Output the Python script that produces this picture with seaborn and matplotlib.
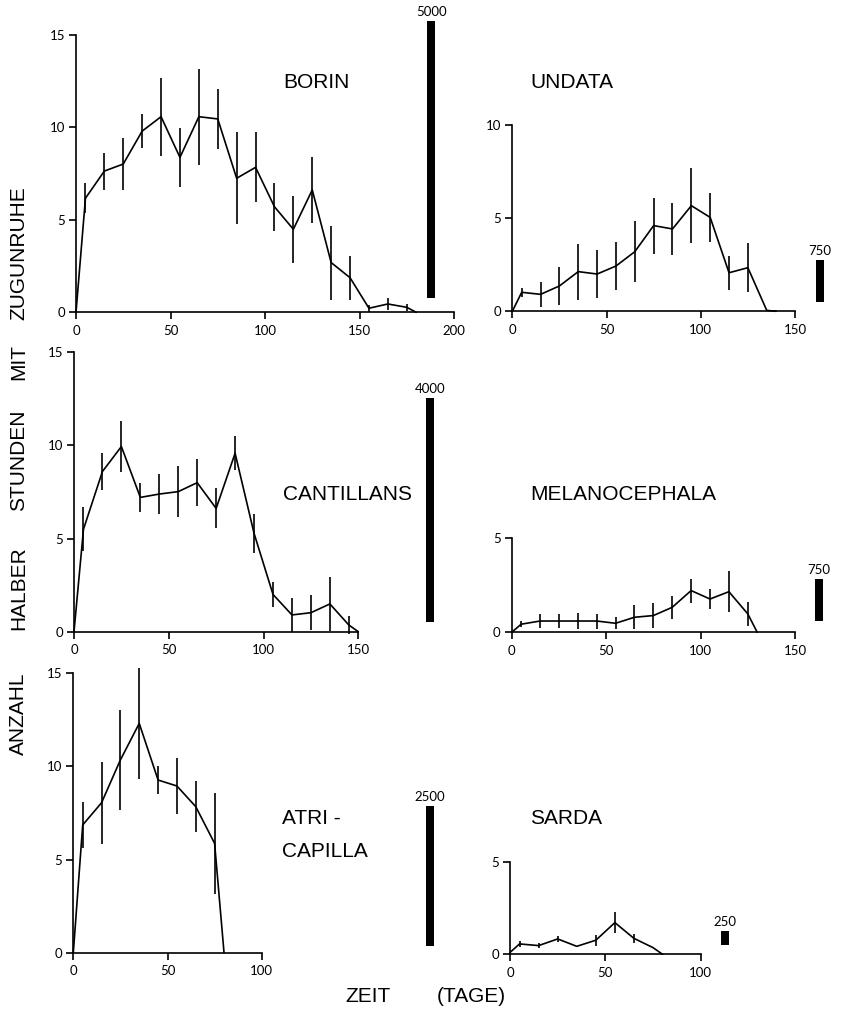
import matplotlib
matplotlib.use("Agg")
import matplotlib.pyplot as plt
import seaborn as sns
import pandas as pd

# ---------------- data ----------------
BORIN_DAYS = [0, 5, 15, 25, 35, 45, 55, 65, 75, 85, 95, 105, 115, 125, 135, 145, 155, 165, 175, 180]
BORIN_MEAN = [0, 6.17, 7.64, 8.02, 9.8, 10.58, 8.38, 10.58, 10.46, 7.25, 7.84, 5.71, 4.49, 6.62, 2.69, 1.87, 0.22, 0.45, 0.27, 0]
BORIN_ERR = [0, 0.8, 1.0, 1.4, 0.9, 2.1, 1.6, 2.6, 1.6, 2.5, 1.9, 1.3, 1.8, 1.8, 2.0, 1.2, 0.2, 0.35, 0.2, 0]

UNDATA_DAYS = [0, 5, 15, 25, 35, 45, 55, 65, 75, 85, 95, 105, 115, 125, 135, 140]
UNDATA_MEAN = [0, 1.02, 0.91, 1.36, 2.13, 2.0, 2.43, 3.2, 4.6, 4.42, 5.67, 5.04, 2.07, 2.34, 0.05, 0]
UNDATA_ERR = [0, 0.25, 0.67, 1.0, 1.5, 1.3, 1.27, 1.65, 1.5, 1.4, 2.0, 1.3, 0.9, 1.3, 0, 0]

CANT_DAYS = [0, 5, 15, 25, 35, 45, 55, 65, 75, 85, 95, 105, 115, 125, 135, 145, 150]
CANT_MEAN = [0, 5.5, 8.6, 9.94, 7.21, 7.39, 7.52, 8.0, 6.62, 9.58, 5.28, 2.0, 0.9, 1.02, 1.49, 0.36, 0]
CANT_ERR = [0, 1.17, 1.0, 1.37, 0.78, 1.07, 1.36, 1.27, 1.07, 0.9, 1.05, 0.65, 0.9, 0.95, 1.47, 0.5, 0]

MELANO_DAYS = [0, 5, 15, 25, 35, 45, 55, 65, 75, 85, 95, 105, 115, 125, 130]
MELANO_MEAN = [0, 0.43, 0.6, 0.6, 0.6, 0.6, 0.48, 0.8, 0.89, 1.33, 2.22, 1.77, 2.16, 0.98, 0]
MELANO_ERR = [0, 0.15, 0.35, 0.35, 0.45, 0.4, 0.33, 0.65, 0.68, 0.62, 0.64, 0.53, 1.08, 0.64, 0]

ATRI_DAYS = [0, 5, 15, 25, 35, 45, 55, 65, 75, 80]
ATRI_MEAN = [0, 6.86, 8.05, 10.35, 12.31, 9.27, 8.95, 7.84, 5.87, 0]
ATRI_ERR = [0, 1.25, 2.2, 2.7, 3.0, 0.75, 1.5, 1.36, 2.73, 0]

SARDA_DAYS = [0, 5, 15, 25, 35, 45, 55, 65, 75, 80]
SARDA_MEAN = [0.1, 0.56, 0.47, 0.83, 0.43, 0.76, 1.71, 0.86, 0.36, 0]
SARDA_ERR = [0, 0.15, 0.12, 0.15, 0, 0.3, 0.55, 0.25, 0, 0]

# total hours of recording per species (drawn as black scale bars)
HOURS = {"BORIN": 5000, "UNDATA": 750, "CANTILLANS": 4000,
         "MELANOCEPHALA": 750, "ATRICAPILLA": 2500, "SARDA": 250}
BAR_UNITS_PER_HOUR = 0.003   # bar length in y-axis units per hour

SERIES = {
    "BORIN": (BORIN_DAYS, BORIN_MEAN, BORIN_ERR),
    "UNDATA": (UNDATA_DAYS, UNDATA_MEAN, UNDATA_ERR),
    "CANTILLANS": (CANT_DAYS, CANT_MEAN, CANT_ERR),
    "MELANOCEPHALA": (MELANO_DAYS, MELANO_MEAN, MELANO_ERR),
    "ATRICAPILLA": (ATRI_DAYS, ATRI_MEAN, ATRI_ERR),
    "SARDA": (SARDA_DAYS, SARDA_MEAN, SARDA_ERR),
}
TITLES = {"BORIN": "BORIN", "UNDATA": "UNDATA", "CANTILLANS": "CANTILLANS",
          "MELANOCEPHALA": "MELANOCEPHALA", "ATRICAPILLA": "ATRI -\nCAPILLA", "SARDA": "SARDA"}
YLABEL_WORDS = ["ZUGUNRUHE", "MIT", "STUNDEN", "HALBER", "ANZAHL"]
XLABEL_WORDS = ["ZEIT", "(TAGE)"]

# ---------------- layout (pixels) ----------------
W, H = 841, 1010
LAYOUT = {
    # x0, x1, ytop, ybottom, xmax, ymax, bar_x, bar_bottom, title x, title y
    "BORIN": (76, 454, 35, 312.3, 200, 15, 188, 0.77, 283, 82),
    "UNDATA": (512.3, 795, 125, 311.3, 150, 10, 163, 0.52, 530, 82),
    "CANTILLANS": (74, 358.3, 352.3, 631.7, 150, 15, 188, 0.54, 283, 494),
    "MELANOCEPHALA": (511.7, 795, 538.3, 632.3, 150, 5, 162.6, 0.6, 530, 495),
    "ATRICAPILLA": (73.3, 261.7, 673.3, 952.7, 100, 15, 189.4, 0.38, 282, 835),
    "SARDA": (510, 700.7, 861.7, 954.3, 100, 5, 112.7, 0.5, 530, 818),
}
YLABEL_Y = [253, 362, 460, 588, 714]
XLABEL_X = [368, 471]

sns.set_theme(style="ticks")
plt.rcParams["font.family"] = ["Liberation Sans", "DejaVu Sans"]

fig = plt.figure(figsize=(W / 100, H / 100), dpi=100)
fig.patch.set_facecolor("white")

LW = 1.2
for key, (days, mean, err) in SERIES.items():
    x0, x1, yt, yb, xmax, ymax, bx, bb, tx, ty = LAYOUT[key]
    ax = fig.add_axes([x0 / W, 1 - yb / H, (x1 - x0) / W, (yb - yt) / H])
    ax.set_facecolor("none")
    df = pd.DataFrame({"day": days, "mean": mean, "err": err})
    sns.lineplot(data=df, x="day", y="mean", ax=ax, color="black", lw=LW,
                 estimator=None, sort=False, clip_on=False)
    eb = ax.errorbar(df["day"], df["mean"], yerr=df["err"], fmt="none",
                     ecolor="black", elinewidth=LW, capsize=0)
    for c in eb.lines[2]:
        c.set_clip_on(False)
    ax.set_xlim(0, xmax)
    ax.set_ylim(0, ymax)
    ax.set_xticks(range(0, xmax + 1, 50))
    ax.set_yticks(range(0, ymax + 1, 5))
    ax.set_xlabel("")
    ax.set_ylabel("")
    sns.despine(ax=ax)
    for s in ("left", "bottom"):
        ax.spines[s].set_linewidth(LW)
        ax.spines[s].set_color("black")
    ax.tick_params(axis="both", direction="out", length=5, width=LW, color="black",
                   labelsize=9.5, labelcolor="black")
    ax.tick_params(axis="x", pad=4)
    ax.tick_params(axis="y", pad=3)
    for lbl in ax.get_xticklabels() + ax.get_yticklabels():
        lbl.set_fontfamily(["Lato", "DejaVu Sans"])

    # scale bar of recorded hours
    h = HOURS[key] * BAR_UNITS_PER_HOUR
    bars = ax.bar([bx], [h], bottom=bb, width=8 / ((x1 - x0) / xmax),
                  color="black", linewidth=0)
    for p in bars.patches:
        p.set_clip_on(False)
    ax.annotate(str(HOURS[key]), xy=(bx, bb + h), xytext=(0, 2),
                textcoords="offset points", ha="center", va="bottom",
                fontsize=9.5, family=["Lato", "DejaVu Sans"], color="black",
                annotation_clip=False)

    fig.text(tx / W, 1 - ty / H, TITLES[key], ha="left", va="center",
             fontsize=15, color="black", linespacing=1.9)

for word, yc in zip(YLABEL_WORDS, YLABEL_Y):
    fig.text(18.5 / W, 1 - yc / H, word, rotation=90, ha="center", va="center",
             fontsize=15, color="black")
for word, xc in zip(XLABEL_WORDS, XLABEL_X):
    fig.text(xc / W, 1 - 997 / H, word, ha="center", va="center",
             fontsize=15, color="black")

fig.savefig("out.png", dpi=100, facecolor="white")
